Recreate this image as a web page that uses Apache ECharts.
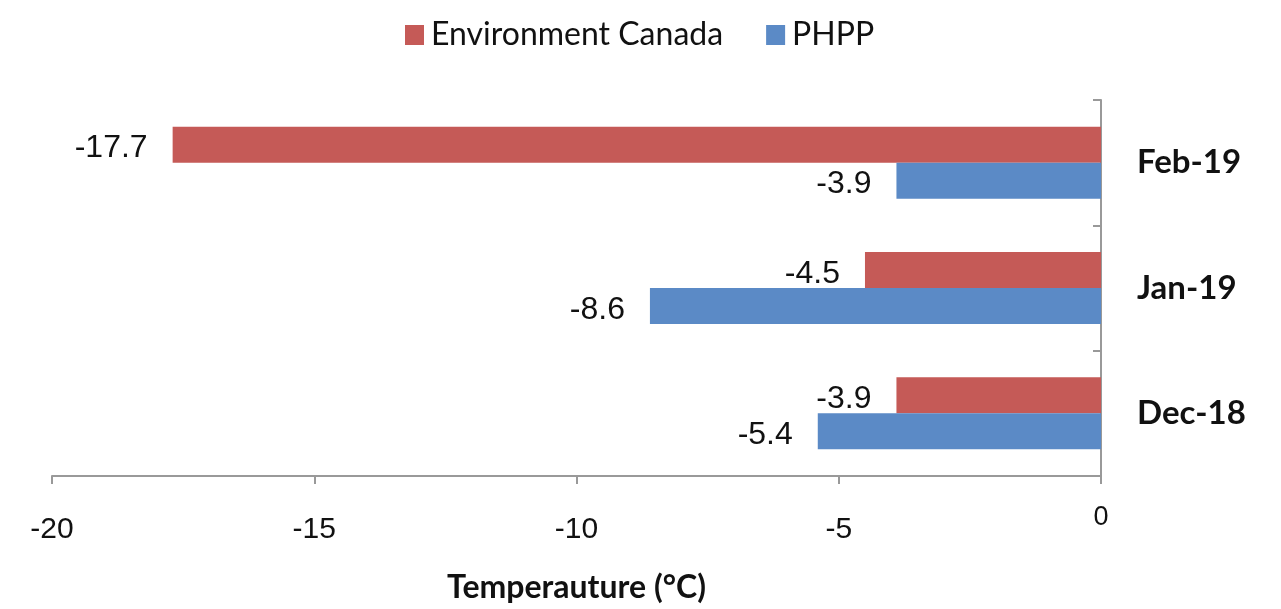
<!DOCTYPE html>
<html><head><meta charset="utf-8">
<script src="https://cdn.jsdelivr.net/npm/echarts@6/dist/echarts.min.js"></script>
<style>html,body{margin:0;padding:0;background:#fff}#c{width:1281px;height:609px}</style>
</head><body><div id="c"></div>
<script>
const categories = ['Dec-18', 'Jan-19', 'Feb-19'];
const envCanada = [-3.9, -4.5, -17.7];
const phpp = [-5.4, -8.6, -3.9];
const xTicks = { min: -20, max: 0, interval: 5 };
const axisTitle = 'Temperauture (°C)';

const chart = echarts.init(document.getElementById('c'));
const labelStyle = { show: true, position: 'left', distance: 25, offset: [0, 4], fontFamily: 'Liberation Sans', fontSize: 32, color: '#111' };
chart.setOption({
  animation: false,
  legend: {
    data: ['Environment Canada', 'PHPP'],
    top: 14, left: 400,
    icon: 'rect', itemWidth: 19, itemHeight: 20, itemGap: 43,
    textStyle: { fontFamily: 'Lato', fontSize: 32, color: '#111', padding: [0, 0, 0, 2] }
  },
  grid: { left: 52, right: 180, top: 100, bottom: 126 },
  xAxis: {
    type: 'value', min: xTicks.min, max: xTicks.max, interval: xTicks.interval,
    splitLine: { show: false },
    axisLine: { show: true, lineStyle: { color: '#999', width: 2 } },
    axisTick: { show: true, length: 8, lineStyle: { color: '#999', width: 2 } },
    axisLabel: {
      margin: 29, color: '#111',
      formatter: v => v === 0 ? '{z|0}' : '{n|' + v + '}',
      rich: {
        n: { fontFamily: 'Liberation Sans', fontSize: 30, lineHeight: 50, color: '#111' },
        z: { fontFamily: 'Liberation Sans', fontSize: 27, lineHeight: 26, color: '#111' }
      }
    },
    name: axisTitle, nameLocation: 'middle', nameGap: 96,
    nameTextStyle: { fontFamily: 'Lato', fontWeight: 'bold', fontSize: 32, color: '#111' }
  },
  yAxis: {
    type: 'category', data: categories, position: 'right',
    axisLine: { show: true, lineStyle: { color: '#999', width: 2 } },
    axisTick: { show: true, inside: true, length: 8, lineStyle: { color: '#999', width: 2 } },
    axisLabel: { margin: 36, fontFamily: 'Lato', fontWeight: 'bold', fontSize: 33, color: '#111' }
  },
  series: [
    { name: 'Environment Canada', type: 'bar', data: envCanada, barWidth: 36, barGap: '0%',
      itemStyle: { color: '#c55a57' }, label: labelStyle },
    { name: 'PHPP', type: 'bar', data: phpp, barWidth: 36, barGap: '0%',
      itemStyle: { color: '#5b8ac6' }, label: labelStyle }
  ]
});
</script></body></html>
